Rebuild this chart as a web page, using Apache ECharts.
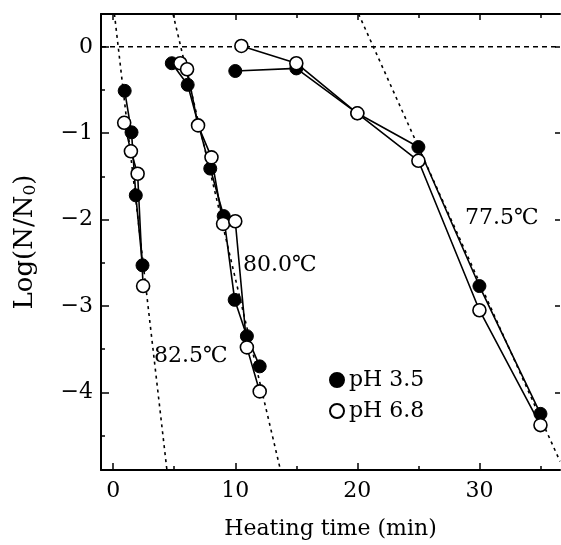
<!DOCTYPE html>
<html>
<head>
<meta charset="utf-8">
<script src="https://cdn.jsdelivr.net/npm/echarts@6/dist/echarts.min.js"></script>
<style>
  html, body { margin: 0; padding: 0; background: #fff; }
  #chart { width: 561px; height: 545px; }
</style>
</head>
<body>
<div id="chart"></div>
<script>
// survival data: [heating time (min), log(N/N0)]
var ph35_825 = [[0.94, -0.51], [1.5, -0.99], [1.85, -1.72], [2.4, -2.53]];
var ph68_825 = [[0.9, -0.88], [1.45, -1.21], [2.0, -1.47], [2.45, -2.77]];
var ph35_800 = [[4.8, -0.19], [6.1, -0.44], [7.95, -1.41], [9.05, -1.96], [9.95, -2.93], [10.95, -3.35], [12.0, -3.70]];
var ph68_800 = [[5.5, -0.19], [6.05, -0.26], [6.95, -0.91], [8.05, -1.28], [9.0, -2.05], [10.0, -2.02], [10.95, -3.48], [12.0, -3.99]];
var ph35_775 = [[10.0, -0.28], [15.0, -0.25], [20.0, -0.77], [25.0, -1.16], [30.0, -2.77], [35.0, -4.25]];
var ph68_775 = [[10.5, 0.01], [15.0, -0.19], [20.0, -0.77], [25.0, -1.32], [30.0, -3.05], [35.0, -4.38]];

// dotted reference lines
var ref_825 = [[0.1, 0.38], [4.4, -4.9]];
var ref_800 = [[4.9, 0.38], [13.7, -4.9]];
var ref_775 = [[20.1, 0.38], [36.6, -4.8]];
var zeroLine = [[-1, 0], [36.6, 0]];

var xMajor = [0, 10, 20, 30];
var xMinor = [5, 15, 25, 35];
var yMajor = [0, -1, -2, -3, -4];
var yMinor = [-0.5, -1.5, -2.5, -3.5, -4.5];

var FONT = 'DejaVu Serif';
var FS = 22;
var chart = echarts.init(document.getElementById('chart'));

function xAx(pos, ticks, len, showLine, showLabel) {
  return {
    type: 'value', position: pos, min: -1, max: 36.6,
    axisLine: { show: showLine, onZero: false, lineStyle: { color: '#000', width: 2 } },
    axisTick: { show: true, inside: true, length: len, customValues: ticks, lineStyle: { color: '#000', width: 1.5 } },
    axisLabel: { show: showLabel, customValues: ticks, color: '#000', fontFamily: FONT, fontSize: FS, margin: 10 },
    splitLine: { show: false }
  };
}
function yAx(pos, ticks, len, showLine, showLabel) {
  return {
    type: 'value', position: pos, min: -4.9, max: 0.38,
    axisLine: { show: showLine, onZero: false, lineStyle: { color: '#000', width: 2 } },
    axisTick: { show: true, inside: true, length: len, customValues: ticks, lineStyle: { color: '#000', width: 1.5 } },
    axisLabel: {
      show: showLabel, customValues: ticks, color: '#000', fontFamily: FONT, fontSize: FS, margin: 8,
      formatter: function (v) { return v < 0 ? '\u2212' + (-v) : String(v); }
    },
    splitLine: { show: false }
  };
}

var xAxes = [
  xAx('bottom', xMajor, 7, true, true),
  xAx('bottom', xMinor, 4, false, false),
  xAx('top', xMajor, 6, true, false),
  xAx('top', xMinor, 4, false, false)
];
xAxes[0].name = 'Heating time (min)';
xAxes[0].nameLocation = 'middle';
xAxes[0].nameGap = 48;
xAxes[0].nameTextStyle = { color: '#000', fontFamily: FONT, fontSize: FS };

var yAxes = [
  yAx('left', yMajor, 8, true, true),
  yAx('left', yMinor, 4, false, false),
  yAx('right', yMajor, 5, false, false)
];
yAxes[0].name = 'Log(N/N{sub|0})';
yAxes[0].nameLocation = 'middle';
yAxes[0].nameRotate = 90;
yAxes[0].nameGap = 62;
yAxes[0].nameTextStyle = {
  color: '#000', fontFamily: FONT, fontSize: 26,
  rich: { sub: { fontFamily: FONT, fontSize: 17, verticalAlign: 'bottom', padding: [10, 0, 0, 0] } }
};

function dataLine(name, data, filled) {
  return {
    name: name, type: 'line', data: data, symbol: 'circle', symbolSize: 13,
    lineStyle: { color: '#000', width: 1.6 },
    itemStyle: filled ? { color: '#000', borderColor: '#000', borderWidth: 1 }
                      : { color: '#fff', borderColor: '#000', borderWidth: 1.6 },
    emphasis: { disabled: true }, z: filled ? 3 : 4
  };
}
function refLine(data, type) {
  return {
    type: 'line', data: data, symbol: 'none', silent: true,
    lineStyle: { color: '#000', width: 1.6, type: type }, z: 1
  };
}

var option = {
  animation: false,
  grid: { left: 101, right: 1, top: 14, bottom: 75 },
  xAxis: xAxes,
  yAxis: yAxes,
  legend: {
    data: ['pH 3.5', 'pH 6.8'], orient: 'vertical', left: 324, top: 364,
    icon: 'circle', itemWidth: 14, itemHeight: 14, itemGap: 9,
    textStyle: { color: '#000', fontFamily: FONT, fontSize: FS },
    selectedMode: false
  },
  graphic: [
    { type: 'text', left: 154, top: 345, style: { text: '82.5\u2103', font: FS + 'px "DejaVu Serif"', fill: '#000' } },
    { type: 'text', left: 243, top: 254, style: { text: '80.0\u2103', font: FS + 'px "DejaVu Serif"', fill: '#000' } },
    { type: 'text', left: 465, top: 207, style: { text: '77.5\u2103', font: FS + 'px "DejaVu Serif"', fill: '#000' } }
  ],
  series: [
    refLine(zeroLine, [5, 4]),
    refLine(ref_825, [3, 4]),
    refLine(ref_800, [3, 4]),
    refLine(ref_775, [3, 4]),
    dataLine('pH 3.5', ph35_825, true),
    dataLine('pH 3.5', ph35_800, true),
    dataLine('pH 3.5', ph35_775, true),
    dataLine('pH 6.8', ph68_825, false),
    dataLine('pH 6.8', ph68_800, false),
    dataLine('pH 6.8', ph68_775, false)
  ]
};
chart.setOption(option);
</script>
</body>
</html>
